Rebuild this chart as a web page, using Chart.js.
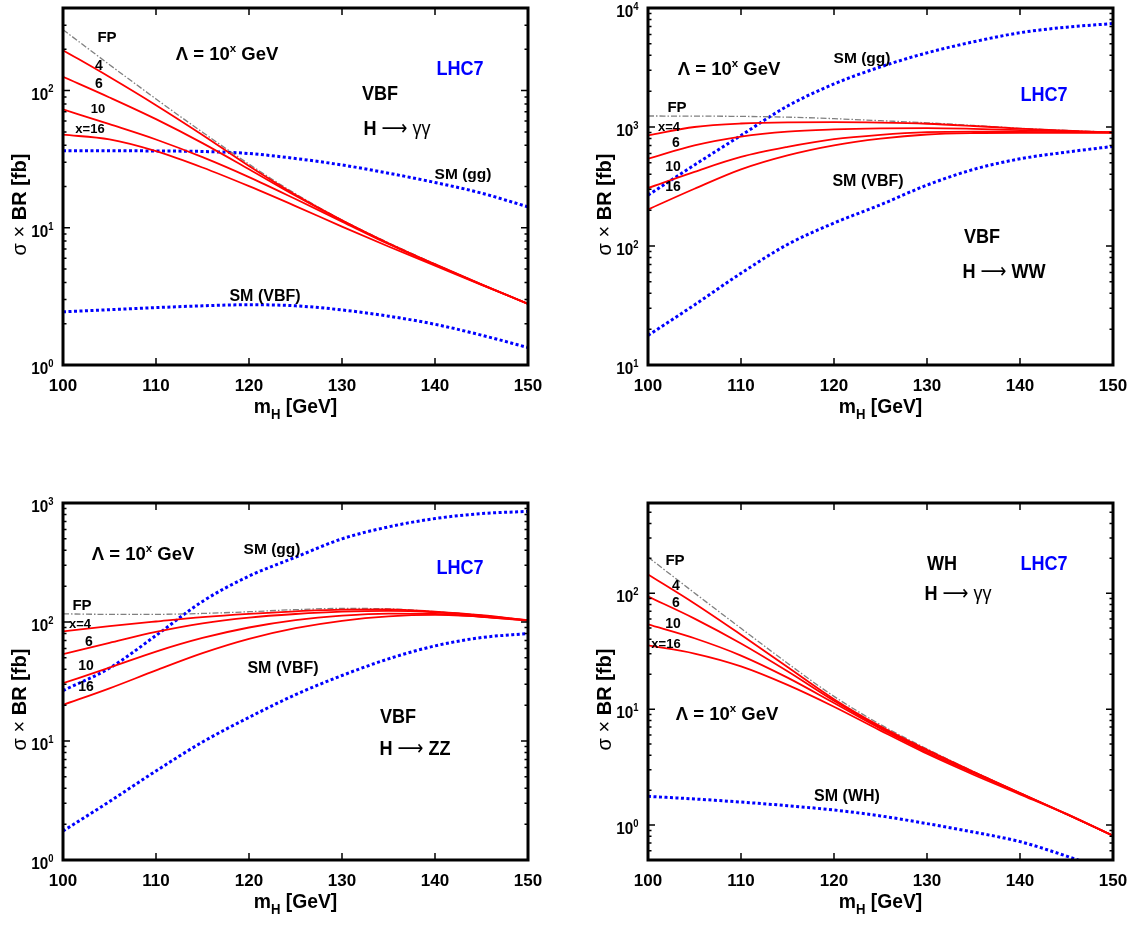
<!DOCTYPE html>
<html>
<head>
<meta charset="utf-8">
<script src="https://cdn.jsdelivr.net/npm/chart.js@4.4.1/dist/chart.umd.min.js"></script>
<style>
  body { margin: 0; background: #fff; }
  #page { position: relative; width: 1135px; height: 925px; }
  .cell { position: absolute; }
</style>
</head>
<body>
<div id="page"></div>
<script>
// Higgs mass grid (GeV) and x tick values
var massGeV = [100, 105, 110, 115, 120, 125, 130, 135, 140, 145, 150];
var xTicks = [100, 110, 120, 130, 140, 150];

// VBF, H -> gamma gamma  (sigma x BR in fb)
var aaFP  = [278, 154.5, 86.9, 49.7, 29.1, 17.7, 11.4, 7.78, 5.45, 3.88, 2.8];
var aaX4  = [197, 125.6, 78.3, 47.5, 28.2, 17.4, 11.35, 7.72, 5.43, 3.87, 2.8];
var aaX6  = [126, 89.1, 61.9, 41.4, 26.7, 17.1, 11.3, 7.68, 5.4, 3.86, 2.79];
var aaX10 = [73, 56.9, 44, 32.7, 23.4, 16.2, 11.1, 7.62, 5.38, 3.85, 2.79];
var aaX16 = [47.7, 44.1, 36.2, 27.5, 20.1, 14.4, 10.2, 7.31, 5.3, 3.84, 2.79];
var aaSmGG  = [36.5, 36.5, 36.3, 36, 34.8, 32, 28.7, 25, 21.4, 17.9, 14.2];
var aaSmVBF = [2.44, 2.53, 2.62, 2.7, 2.75, 2.7, 2.52, 2.27, 1.98, 1.65, 1.34];

// VBF, H -> WW
var wwFP  = [1237, 1235, 1228, 1210, 1175, 1130, 1085, 1030, 975, 935, 905];
var wwX4  = [851, 1000, 1070, 1095, 1098, 1088, 1065, 1020, 970, 930, 900];
var wwX6  = [542, 700, 830, 915, 955, 975, 980, 965, 940, 920, 900];
var wwX10 = [307, 420, 560, 680, 790, 860, 905, 915, 910, 905, 900];
var wwX16 = [203, 303, 441, 578, 702, 798, 865, 890, 895, 895, 895];
var wwSmGG  = [267, 480, 850, 1500, 2300, 3200, 4200, 5200, 6200, 6900, 7400];
var wwSmVBF = [17.7, 32, 59, 103, 156, 222, 325, 440, 540, 615, 687];

// VBF, H -> ZZ
var zzFP  = [117, 116, 116, 118, 122, 127, 130, 129, 122, 114, 103];
var zzX4  = [83.4, 92.3, 101, 110, 117.2, 123, 127.2, 127.7, 122, 114, 103];
var zzX6  = [53.7, 66.8, 82.6, 97.5, 108.9, 116.7, 122.2, 124.2, 120.8, 112.7, 103.8];
var zzX10 = [30.6, 41.3, 56.4, 73.4, 89.9, 103.7, 113.2, 117.8, 117.2, 110.4, 102.6];
var zzX16 = [20.1, 27.7, 39.2, 54.7, 72.1, 88.7, 102.3, 111.4, 114.6, 110.7, 103.3];
var zzSmGG  = [26.5, 41, 77, 149, 243, 350, 500, 630, 740, 815, 850];
var zzSmVBF = [1.75, 3.1, 5.6, 9.8, 15.8, 24.5, 35.5, 49, 63, 74, 80];

// WH, H -> gamma gamma
var whFP  = [205, 100.5, 49.8, 24.9, 12.9, 7.36, 4.54, 2.9, 1.89, 1.24, 0.81];
var whX4  = [145, 81.5, 43.8, 23.1, 12.2, 7.1, 4.45, 2.88, 1.89, 1.24, 0.81];
var whX6  = [93.6, 60.4, 36.8, 21.2, 11.8, 6.93, 4.38, 2.86, 1.89, 1.25, 0.81];
var whX10 = [53.9, 40.9, 29, 18.7, 11.3, 6.79, 4.24, 2.8, 1.87, 1.25, 0.81];
var whX16 = [35.5, 30.2, 23.4, 16.2, 10.5, 6.53, 4.12, 2.72, 1.84, 1.24, 0.81];
var whSmWH = [1.77, 1.68, 1.58, 1.47, 1.35, 1.2, 1.03, 0.87, 0.72, 0.54, 0.39];

var FONT = '"Liberation Sans", Arial, Helvetica, "DejaVu Sans", sans-serif';
var BLUE = 'rgb(0,0,255)';

function pts(vals) {
    return massGeV.map(function (m, i) { return { x: m, y: vals[i] }; });
}
function redLine(label, vals) {
    return { label: label, data: pts(vals), borderColor: 'rgb(255,0,0)', borderWidth: 1.8,
             pointRadius: 0, cubicInterpolationMode: 'monotone', fill: false };
}
function smLine(label, vals) {
    return { label: label, data: pts(vals), borderColor: BLUE, borderWidth: 3, borderDash: [3, 2.5],
             pointRadius: 0, cubicInterpolationMode: 'monotone', fill: false };
}
function fpLine(vals) {
    return { label: 'FP', data: pts(vals), borderColor: 'rgb(128,128,128)', borderWidth: 1.3,
             borderDash: [6, 2, 1.5, 2], pointRadius: 0, cubicInterpolationMode: 'monotone', fill: false };
}

// text made of runs: {t, sup, sub, bold}
function drawRuns(ctx, runs, x, base, size, align, color, sx) {
    sx = sx || 1;
    ctx.save();
    var total = 0;
    var items = runs.map(function (r) {
        var px = r.sup ? size * 0.62 : (r.sub ? size * 0.68 : size);
        var font = (r.bold === false ? '' : 'bold ') + px.toFixed(1) + 'px ' + FONT;
        ctx.font = font;
        var w = ctx.measureText(r.t).width * sx;
        total += w;
        return { r: r, font: font, w: w };
    });
    var cx = align === 'center' ? x - total / 2 : (align === 'right' ? x - total : x);
    ctx.fillStyle = color || '#000';
    ctx.textAlign = 'left';
    ctx.textBaseline = 'alphabetic';
    items.forEach(function (it) {
        var dy = it.r.sup ? -size * 0.42 : (it.r.sub ? size * 0.3 : 0);
        ctx.font = it.font;
        ctx.save();
        ctx.translate(cx, base + dy);
        ctx.scale(sx, 1);
        ctx.fillText(it.r.t, 0, 0);
        ctx.restore();
        cx += it.w;
    });
    ctx.restore();
}

function txt(s) { return [{ t: s }]; }
var lambdaRuns = [{ t: 'Λ = 10' }, { t: 'x', sup: true }, { t: ' GeV' }];
function decayRuns(fin) { return [{ t: 'H ' }, { t: '⟶', bold: false }, { t: ' ' + fin, bold: fin.indexOf('γ') < 0 }]; }

var panels = [
    { left: 0, top: 0, w: 567, h: 462, box: { l: 63, t: 8, r: 528, b: 365 },
      yMin: 1, yMax: 400, decades: [0, 1, 2],
      fp: aaFP, xs: [aaX4, aaX6, aaX10, aaX16], sm: [['SM (gg)', aaSmGG], ['SM (VBF)', aaSmVBF]],
      notes: [
        { runs: txt('FP'), x: 107, y: 37, size: 15 },
        { runs: txt('4'), x: 99, y: 65, size: 14 },
        { runs: txt('6'), x: 99, y: 83, size: 14 },
        { runs: txt('10'), x: 98, y: 108, size: 13 },
        { runs: txt('x=16'), x: 90, y: 128, size: 13 },
        { runs: lambdaRuns, x: 227, y: 53, size: 18.5 },
        { runs: txt('LHC7'), x: 460, y: 67, size: 21, color: BLUE, sx: 0.86 },
        { runs: txt('VBF'), x: 380, y: 92, size: 21, sx: 0.86 },
        { runs: decayRuns('γγ'), x: 397, y: 127, size: 21, sx: 0.86 },
        { runs: txt('SM (gg)'), x: 463, y: 173, size: 15.5 },
        { runs: txt('SM (VBF)'), x: 265, y: 295, size: 16 }
      ] },
    { left: 567, top: 0, w: 568, h: 462, box: { l: 81, t: 8, r: 546, b: 365 },
      yMin: 10, yMax: 10000, decades: [1, 2, 3, 4],
      fp: wwFP, xs: [wwX4, wwX6, wwX10, wwX16], sm: [['SM (gg)', wwSmGG], ['SM (VBF)', wwSmVBF]],
      notes: [
        { runs: txt('FP'), x: 110, y: 107, size: 15 },
        { runs: txt('x=4'), x: 102, y: 126, size: 13 },
        { runs: txt('6'), x: 109, y: 142, size: 14 },
        { runs: txt('10'), x: 106, y: 166, size: 14 },
        { runs: txt('16'), x: 106, y: 186, size: 14 },
        { runs: lambdaRuns, x: 162, y: 68, size: 18.5 },
        { runs: txt('SM (gg)'), x: 295, y: 57, size: 15.5 },
        { runs: txt('SM (VBF)'), x: 301, y: 180, size: 16 },
        { runs: txt('LHC7'), x: 477, y: 93, size: 21, color: BLUE, sx: 0.86 },
        { runs: txt('VBF'), x: 415, y: 235, size: 21, sx: 0.86 },
        { runs: decayRuns('WW'), x: 437, y: 270, size: 21, sx: 0.86 }
      ] },
    { left: 0, top: 462, w: 567, h: 463, box: { l: 63, t: 41, r: 528, b: 398 },
      yMin: 1, yMax: 1000, decades: [0, 1, 2, 3],
      fp: zzFP, xs: [zzX4, zzX6, zzX10, zzX16], sm: [['SM (gg)', zzSmGG], ['SM (VBF)', zzSmVBF]],
      notes: [
        { runs: txt('FP'), x: 82, y: 143, size: 15 },
        { runs: txt('x=4'), x: 80, y: 161, size: 13 },
        { runs: txt('6'), x: 89, y: 179, size: 14 },
        { runs: txt('10'), x: 86, y: 203, size: 14 },
        { runs: txt('16'), x: 86, y: 224, size: 14 },
        { runs: lambdaRuns, x: 143, y: 91, size: 18.5 },
        { runs: txt('SM (gg)'), x: 272, y: 86, size: 15.5 },
        { runs: txt('SM (VBF)'), x: 283, y: 205, size: 16 },
        { runs: txt('LHC7'), x: 460, y: 104, size: 21, color: BLUE, sx: 0.86 },
        { runs: txt('VBF'), x: 398, y: 253, size: 21, sx: 0.86 },
        { runs: decayRuns('ZZ'), x: 415, y: 285, size: 21, sx: 0.86 }
      ] },
    { left: 567, top: 462, w: 568, h: 463, box: { l: 81, t: 41, r: 546, b: 398 },
      yMin: 0.5, yMax: 600, decades: [0, 1, 2],
      fp: whFP, xs: [whX4, whX6, whX10, whX16], sm: [['SM (WH)', whSmWH]],
      notes: [
        { runs: txt('FP'), x: 108, y: 98, size: 15 },
        { runs: txt('4'), x: 109, y: 123, size: 14 },
        { runs: txt('6'), x: 109, y: 140, size: 14 },
        { runs: txt('10'), x: 106, y: 161, size: 14 },
        { runs: txt('x=16'), x: 99, y: 181, size: 13 },
        { runs: lambdaRuns, x: 160, y: 251, size: 18.5 },
        { runs: txt('SM (WH)'), x: 280, y: 333, size: 16 },
        { runs: txt('WH'), x: 375, y: 100, size: 21, sx: 0.86 },
        { runs: decayRuns('γγ'), x: 391, y: 130, size: 21, sx: 0.86 },
        { runs: txt('LHC7'), x: 477, y: 100, size: 21, color: BLUE, sx: 0.86 }
      ] }
];

// frame, inward ticks, y labels, titles and in-plot labels
function deco(p) {
    return {
        id: 'deco',
        afterDraw: function (chart) {
            var ctx = chart.ctx, a = chart.chartArea;
            var xs = chart.scales.x, ys = chart.scales.y;
            ctx.save();
            ctx.strokeStyle = '#000';
            ctx.lineWidth = 1.5;
            ctx.beginPath();
            xTicks.forEach(function (v) {
                var px = xs.getPixelForValue(v);
                ctx.moveTo(px, a.bottom); ctx.lineTo(px, a.bottom - 7);
                ctx.moveTo(px, a.top); ctx.lineTo(px, a.top + 7);
            });
            var e0 = Math.floor(Math.log10(p.yMin)), e1 = Math.ceil(Math.log10(p.yMax));
            for (var e = e0; e <= e1; e++) {
                for (var k = 1; k <= 9; k++) {
                    var v = k * Math.pow(10, e);
                    if (v < p.yMin * 0.999 || v > p.yMax * 1.001) continue;
                    var py = ys.getPixelForValue(v);
                    var len = k === 1 ? 7 : 3.5;
                    ctx.moveTo(a.left, py); ctx.lineTo(a.left + len, py);
                    ctx.moveTo(a.right, py); ctx.lineTo(a.right - len, py);
                }
            }
            ctx.stroke();
            ctx.lineWidth = 3;
            ctx.strokeRect(a.left, a.top, a.right - a.left, a.bottom - a.top);
            ctx.restore();

            p.decades.forEach(function (d) {
                var py = ys.getPixelForValue(Math.pow(10, d));
                drawRuns(ctx, [{ t: '10' }, { t: String(d), sup: true }], a.left - 9.5, py + 9, 17, 'right', '#000', 0.9);
            });

            var cxm = (a.left + a.right) / 2;
            drawRuns(ctx, [{ t: 'm' }, { t: 'H', sub: true }, { t: ' [GeV]' }], cxm, a.bottom + 48, 21, 'center', '#000', 0.92);

            ctx.save();
            ctx.translate(a.left - 37, (a.top + a.bottom) / 2 + 18);
            ctx.rotate(-Math.PI / 2);
            drawRuns(ctx, [{ t: 'σ', bold: false }, { t: ' × ', bold: false }, { t: 'BR [fb]' }], 0, 0, 20, 'center', '#000', 1);
            ctx.restore();

            p.notes.forEach(function (n) {
                drawRuns(ctx, n.runs, n.x, n.y + n.size * 0.36, n.size, 'center', n.color || '#000', n.sx || 1);
            });
        }
    };
}

var page = document.getElementById('page');
panels.forEach(function (p) {
    var cell = document.createElement('div');
    cell.className = 'cell';
    cell.style.left = p.left + 'px';
    cell.style.top = p.top + 'px';
    var cv = document.createElement('canvas');
    cv.width = p.w;
    cv.height = p.h;
    cell.appendChild(cv);
    page.appendChild(cell);

    var datasets = [];
    var names = ['x=4', 'x=6', 'x=10', 'x=16'];
    p.xs.forEach(function (vals, i) { datasets.push(redLine(names[i], vals)); });
    datasets.push(fpLine(p.fp));
    p.sm.forEach(function (s) { datasets.push(smLine(s[0], s[1])); });

    new Chart(cv.getContext('2d'), {
        type: 'line',
        data: { datasets: datasets },
        options: {
            responsive: false,
            animation: false,
            events: [],
            layout: { padding: { left: p.box.l, top: p.box.t, right: p.w - p.box.r, bottom: 0 } },
            plugins: { legend: { display: false }, tooltip: { enabled: false } },
            scales: {
                x: {
                    type: 'linear', min: 100, max: 150,
                    afterBuildTicks: function (s) { s.ticks = xTicks.map(function (v) { return { value: v }; }); },
                    afterFit: function (s) { s.height = p.h - p.box.b; },
                    grid: { display: false },
                    border: { display: false },
                    ticks: { color: '#000', padding: 3, maxRotation: 0,
                             font: { family: FONT, size: 17, weight: 'bold' } }
                },
                y: { type: 'logarithmic', min: p.yMin, max: p.yMax, display: false }
            }
        },
        plugins: [deco(p)]
    });
});
</script>
</body>
</html>
